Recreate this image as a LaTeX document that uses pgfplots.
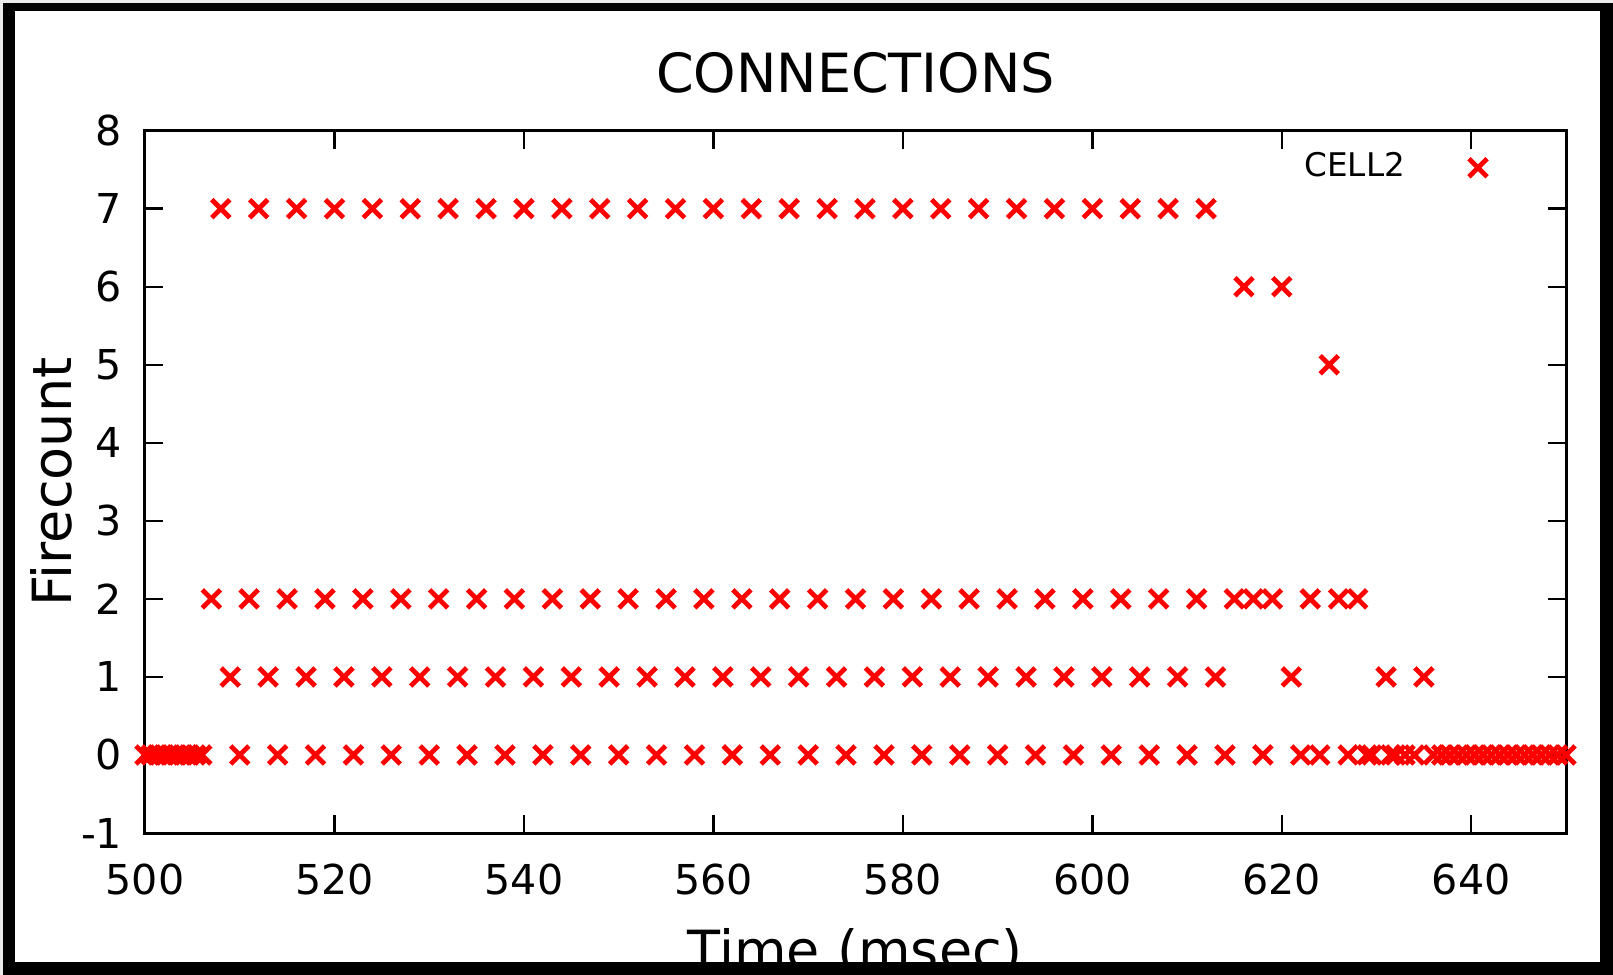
\documentclass[border=0pt]{standalone}
\usepackage{fontspec}
\setmainfont{DejaVu Sans}
\usepackage{pgfplots}
\usepackage{pgfplotstable}
\pgfplotsset{compat=1.18}

% spike times (msec) and fire counts of CELL2
\pgfplotstableread{
t y
500 0
500.667 0
501.333 0
502 0
502.667 0
503.333 0
504 0
504.667 0
505.333 0
506 0
507 2
508 7
509 1
510 0
511 2
512 7
513 1
514 0
515 2
516 7
517 1
518 0
519 2
520 7
521 1
522 0
523 2
524 7
525 1
526 0
527 2
528 7
529 1
530 0
531 2
532 7
533 1
534 0
535 2
536 7
537 1
538 0
539 2
540 7
541 1
542 0
543 2
544 7
545 1
546 0
547 2
548 7
549 1
550 0
551 2
552 7
553 1
554 0
555 2
556 7
557 1
558 0
559 2
560 7
561 1
562 0
563 2
564 7
565 1
566 0
567 2
568 7
569 1
570 0
571 2
572 7
573 1
574 0
575 2
576 7
577 1
578 0
579 2
580 7
581 1
582 0
583 2
584 7
585 1
586 0
587 2
588 7
589 1
590 0
591 2
592 7
593 1
594 0
595 2
596 7
597 1
598 0
599 2
600 7
601 1
602 0
603 2
604 7
605 1
606 0
607 2
608 7
609 1
610 0
611 2
612 7
613 1
614 0
615 2
616 6
617 2
618 0
619 2
620 6
621 1
622 0
623 2
624 0
625 5
626 2
627 0
628 2
629 0
629.5 0
631 1
631.5 0
632 0
633 0
634 0
635 1
636 0
636.875 0
637.75 0
638.625 0
639.5 0
640.375 0
641.25 0
642.125 0
643 0
643.875 0
644.75 0
645.625 0
646.5 0
647.375 0
648.25 0
649.125 0
650 0
}\cellspikes

\begin{document}
\begin{tikzpicture}[x=0.25pt,y=0.25pt]
\path[use as bounding box] (0,0) rectangle (1613,974);
\fill[black!8] (0,0) rectangle (1613,974);
\fill[black] (3,0) rectangle (1613,971);
\fill[white] (15,12) rectangle (1600,963);
\begin{axis}[
  at={(36.25pt,35.25pt)}, anchor=south west,
  scale only axis, width=355.25pt, height=175.6pt,
  xmin=500, xmax=650, ymin=-1, ymax=8,
  xtick={500,520,...,640},
  ytick={-1,0,...,8},
  clip=false,
  tick align=inside,
  major tick length=4.5pt,
  axis line style={line width=0.75pt},
  every tick/.style={black, line width=0.6pt},
  /pgf/number format/assume math mode=true,
  tick label style={font=\fontsize{10.3}{12}\selectfont},
  xticklabel style={anchor=north, inner sep=0pt, yshift=-7.5pt},
  yticklabel style={anchor=east, inner sep=0pt, xshift=-5.5pt},
  title={CONNECTIONS},
  title style={at={(axis description cs:0.5,1)}, anchor=base, yshift=3.5pt,
    font=\fontsize{13.5}{16}\selectfont},
  xlabel={Time (msec)},
  ylabel={Firecount},
  every axis x label/.style={at={(axis description cs:0.5,0)}, anchor=base,
    yshift=-34pt, font=\fontsize{13.5}{16}\selectfont},
  every axis y label/.style={at={(axis description cs:-0.05137,0.5)}, anchor=base,
    rotate=90, font=\fontsize{13.5}{16}\selectfont},
  legend plot pos=right,
  legend cell align=right,
  legend image code/.code={\draw[#1] plot coordinates {(0pt,0pt)};},
  legend style={draw=none, fill=none, inner sep=0pt, column sep=16pt,
    nodes={inner sep=0pt},
    at={(axis description cs:0.945,0.9472)}, anchor=east,
    font=\fontsize{8.15}{9}\selectfont},
]
\addplot[only marks, mark=x, mark size=3.2pt, red,
  mark options={line width=1.2pt, solid}] table[x=t, y=y] {\cellspikes};
\addlegendentry{CELL2}
\end{axis}
% bottom edge of the frame, laid over the axis label
\fill[black] (0,-40) rectangle (1613,12);
\fill[black!8] (0,-40) rectangle (3,12);
\end{tikzpicture}
\end{document}
